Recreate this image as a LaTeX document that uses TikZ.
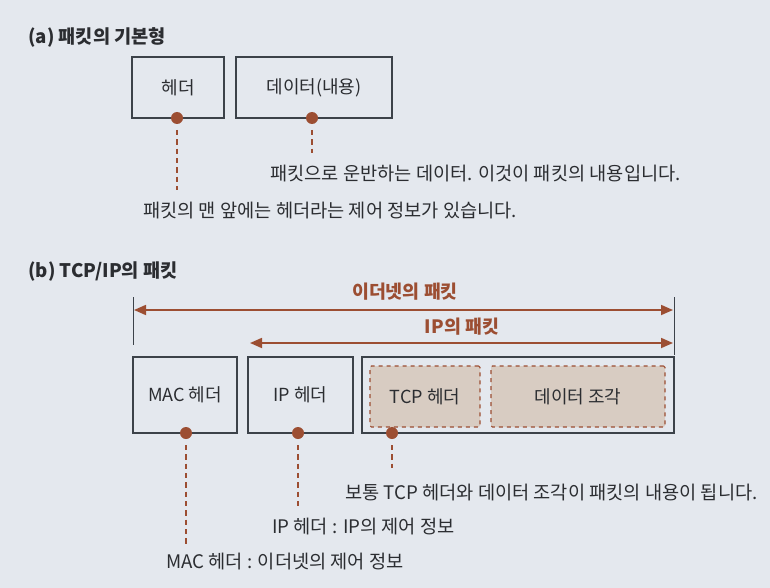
\documentclass[tikz,border=0pt]{standalone}
\usepackage{fontspec}
\setmainfont{Noto Sans CJK KR}
\usetikzlibrary{arrows.meta}
\definecolor{bg}{HTML}{E4E8EE}
\definecolor{brn}{HTML}{9C4E32}
\definecolor{ink}{HTML}{2B2D31}
\definecolor{boxline}{HTML}{3C4249}
\definecolor{tan}{HTML}{D8CCC2}
\tikzset{
  lbl/.style={font=\fontsize{13.5}{16}\selectfont},
  pbox/.style={draw=boxline, line width=0.9pt, minimum height=45.75pt, inner sep=0pt, text=ink, lbl},
  bbox/.style={pbox, minimum height=57pt},
  sbox/.style={draw=brn, dashed, line width=0.8pt, fill=tan, minimum height=45.75pt, rounded corners=1pt, inner sep=0pt, text=ink, lbl},
  dot/.style={circle, fill=brn, minimum size=9pt, inner sep=0pt},
  lead/.style={draw=brn, line width=1.3pt, dash pattern=on 4pt off 3pt},
  note/.style={anchor=west, inner sep=0pt, text=ink, font=\fontsize{14}{16}\selectfont},
  ttl/.style={anchor=west, inner sep=0pt, text=ink, font=\fontsize{14}{16}\selectfont\bfseries},
  span/.style={draw=brn, line width=1.3pt, {Triangle[length=9pt,width=7.5pt]}-{Triangle[length=9pt,width=7.5pt]}},
  spanlbl/.style={inner sep=0pt, text=brn, font=\fontsize{13.8}{16}\selectfont\bfseries},
  vline/.style={draw=boxline, line width=0.7pt}
}
\begin{document}
\begin{tikzpicture}[x=0.75pt,y=-0.75pt]
\fill[bg] (0,0) rectangle (770,588);
\useasboundingbox (0,0) rectangle (770,588);
% (a)
\node[ttl] (ta) at (28,37) {(a) 패킷의 기본형};
\node[pbox, minimum width=69pt] (hdr) at (178,87.5) {헤더};
\node[pbox, minimum width=117pt] (dat) at (314,87.5) {데이터(내용)};
\node[dot] (dh) at (177,118) {};
\node[dot] (dd) at (312,118) {};
\coordinate (eh) at (177,190);
\coordinate (ed) at (312,153);
\draw[lead] ([yshift=-9pt]dh.center) -- (eh);
\draw[lead] ([yshift=-9pt]dd.center) -- (ed);
\node[note] (nd) at (270,174) {패킷으로 운반하는 데이터. 이것이 패킷의 내용입니다.};
\node[note] (nh) at (143,211) {패킷의 맨 앞에는 헤더라는 제어 정보가 있습니다.};
% (b)
\node[ttl] (tb) at (28,272) {(b) TCP/IP의 패킷};
\coordinate (l1a) at (133,297);
\coordinate (l1b) at (133,345);
\coordinate (l2a) at (674,297);
\coordinate (l2b) at (674,355);
\draw[vline] (l1a) -- (l1b);
\draw[vline] (l2a) -- (l2b);
\coordinate (ea) at (134,310);
\coordinate (eb) at (673,310);
\coordinate (ia) at (250,343);
\coordinate (ib) at (673,343);
\draw[span] (ea) -- (eb);
\draw[span] (ia) -- (ib);
\node[spanlbl] (le) at (405,292) {이더넷의 패킷};
\node[spanlbl] (li) at (462,327) {IP의 패킷};
\node[bbox, minimum width=78pt] (mac) at (185,395) {MAC 헤더};
\node[bbox, minimum width=78.75pt] (iph) at (300.5,395) {IP 헤더};
\node[bbox, minimum width=234pt] (big) at (518,395) {};
\node[sbox, minimum width=82.5pt] (tcp) at (425,396.5) {TCP 헤더};
\node[sbox, minimum width=130.5pt] (frag) at (578,396.5) {데이터 조각};
\node[dot] (dm) at (186,433) {};
\node[dot] (di) at (298,433) {};
\node[dot] (dt) at (392,433) {};
\coordinate (em) at (186,545);
\coordinate (ei) at (298,510);
\coordinate (et) at (392,468);
\draw[lead] ([yshift=-9pt]dm.center) -- (em);
\draw[lead] ([yshift=-9pt]di.center) -- (ei);
\draw[lead] ([yshift=-9pt]dt.center) -- (et);
\node[note] (nt) at (345,493) {보통 TCP 헤더와 데이터 조각이 패킷의 내용이 됩니다.};
\node[note] (ni) at (272,527) {IP 헤더 : IP의 제어 정보};
\node[note] (nm) at (166,562) {MAC 헤더 : 이더넷의 제어 정보};
\end{tikzpicture}
\end{document}
